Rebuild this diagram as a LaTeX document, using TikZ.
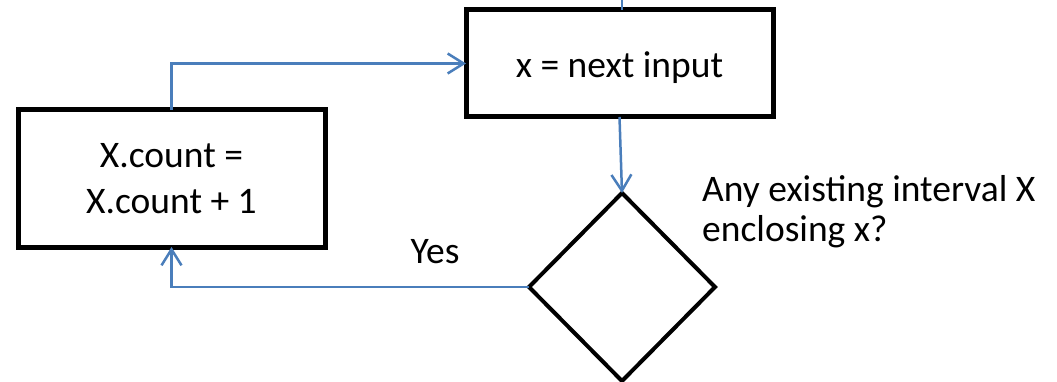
\documentclass[tikz,border=0pt]{standalone}
\usepackage{fontspec}
\setmainfont{Carlito}
\usetikzlibrary{shapes.geometric,arrows.meta}
\definecolor{flowblue}{RGB}{74,126,187}
\begin{document}
\begin{tikzpicture}[x=1pt,y=-1pt,
  box/.style={draw=black,line width=5pt,rectangle,outer sep=0pt,inner sep=0pt,
    align=center,font=\fontsize{37.5}{46}\selectfont},
  decision/.style={draw=black,line width=4pt,diamond,outer sep=0pt,inner sep=0pt,
    minimum width=186pt,minimum height=188pt},
  flow/.style={draw=flowblue,line width=2.5pt,
    -{Straight Barb[length=16pt,width=20pt,line width=2.5pt]}},
  lbl/.style={font=\fontsize{37.5}{40}\selectfont,inner sep=0pt,align=left}
]
\useasboundingbox (0,0) rectangle (1057,382);

% process boxes
\node[box,minimum width=307pt,minimum height=107pt,text height=29pt,text depth=0pt]
  (input) at (619.5,63.5) {x = next input};
\node[box,minimum width=307pt,minimum height=137pt]
  (count) at (171.5,178.5) {X.count =\\X.count + 1};

% decision (base anchor sits on the last line of the question)
\node[decision] (test) at (622,287) {};
\node[lbl,anchor=base west] (question) at (702,241)
  {Any existing interval X\\enclosing x?};

% connectors
\coordinate (entry) at (622,0);
\draw[draw=flowblue,line width=2.5pt] (entry) -- (input.north -| entry);
\draw[flow] (count.north) |- (input.west);
\draw[flow] (input.south) -- (test.north);
\draw[flow] (test.west) -| (count.south);
\node[lbl,anchor=base] (yes) at (435,263) {Yes};
\end{tikzpicture}
\end{document}
